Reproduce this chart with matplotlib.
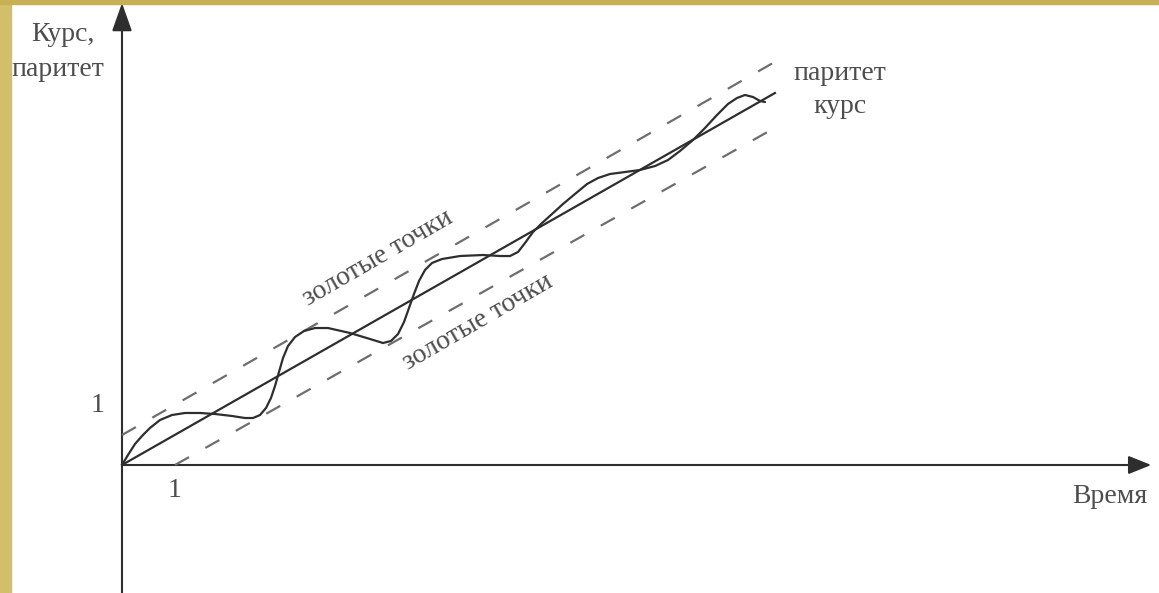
import matplotlib.pyplot as plt
from matplotlib.patches import FancyArrowPatch, Rectangle

# data (time units on x, rate units on y)
parity_x = [0.0, 12.32]
parity_y = [0.0, 6.2]
upper_x = [0.0, 12.38]
upper_y = [0.5, 6.75]
lower_x = [1.0, 12.32]
lower_y = [0.0, 5.62]

rate_x = [0.0, 0.113, 0.245, 0.377, 0.528, 0.717, 0.943, 1.189, 1.472, 1.755,
          2.075, 2.321, 2.472, 2.604, 2.717, 2.811, 2.887, 2.962, 3.038, 3.132,
          3.264, 3.434, 3.642, 3.887, 4.302, 4.679, 4.925, 5.075, 5.208, 5.321,
          5.415, 5.509, 5.604, 5.717, 5.849, 6.038, 6.377, 6.811, 7.132, 7.321,
          7.472, 7.604, 7.755, 7.925, 8.113, 8.321, 8.547, 8.774, 8.981, 9.208,
          9.491, 9.774, 10.057, 10.302, 10.528, 10.774, 11.0, 11.226, 11.434,
          11.604, 11.755, 11.906, 12.038, 12.132]
rate_y = [0.0, 0.167, 0.35, 0.483, 0.617, 0.75, 0.833, 0.867, 0.867, 0.85,
          0.817, 0.783, 0.783, 0.833, 0.95, 1.117, 1.317, 1.55, 1.783, 1.983,
          2.133, 2.233, 2.283, 2.283, 2.2, 2.1, 2.033, 2.067, 2.183, 2.383,
          2.617, 2.85, 3.067, 3.25, 3.367, 3.433, 3.483, 3.5, 3.483, 3.483,
          3.55, 3.7, 3.883, 4.033, 4.183, 4.35, 4.517, 4.683, 4.783, 4.85,
          4.883, 4.917, 4.983, 5.083, 5.233, 5.417, 5.617, 5.833, 6.017,
          6.117, 6.167, 6.133, 6.067, 6.05]

ink = '#2e2e2e'
txt = '#4d4d4d'
font = 'Liberation Serif'

fig = plt.figure(figsize=(11.59, 5.93), dpi=100)
ax = fig.add_axes([0, 0, 1, 1])
ax.set_xlim(-122 / 53, (1159 - 122) / 53)
ax.set_ylim(-(593 - 465) / 60, 465 / 60)
ax.axis('off')

# axes with arrows
ax.add_patch(FancyArrowPatch((0, -3), (0, 7.70), arrowstyle='-|>,head_length=1.24,head_width=0.44',
                             mutation_scale=14, lw=1.5, color=ink, shrinkA=0, shrinkB=0))
ax.add_patch(FancyArrowPatch((0, 0), (19.42, 0), arrowstyle='-|>,head_length=1.0,head_width=0.4',
                             mutation_scale=14, lw=1.5, color=ink, shrinkA=0, shrinkB=0))

ax.plot(upper_x, upper_y, color='#6e6e6e', lw=1.6, dashes=(7.2, 8.5))
ax.plot(lower_x, lower_y, color='#6e6e6e', lw=1.6, dashes=(7.2, 8.5))
ax.plot(parity_x, parity_y, color=ink, lw=1.6)
ax.plot(rate_x, rate_y, color=ink, lw=1.6, solid_joinstyle='round', solid_capstyle='round')

kw = dict(family=font, color=txt, fontsize=20, ha='center', va='center')
ax.text(-1.11, 7.18, 'Курс,', **kw)
ax.text(-1.21, 6.6, 'паритет', **kw)
ax.text(13.55, 6.53, 'паритет', **kw)
ax.text(13.55, 5.97, 'курс', **kw)
ax.text(-0.47, 1.0, '1', **kw)
ax.text(1.0, -0.42, '1', **kw)
ax.text(18.64, -0.53, 'Время', **kw)
ax.text(4.83, 3.45, 'золотые точки', rotation=30, rotation_mode='anchor', **kw)
ax.text(6.72, 2.38, 'золотые точки', rotation=30, rotation_mode='anchor', **kw)

# gold frame on the left and top
fig.patches.append(Rectangle((0, 0), 11 / 1159, 1, transform=fig.transFigure,
                             color='#d3bf6a', zorder=10))
fig.patches.append(Rectangle((0, 1 - 4 / 593), 1, 4 / 593, transform=fig.transFigure,
                             color='#c8b055', zorder=10))

fig.savefig('out.png', dpi=100)
